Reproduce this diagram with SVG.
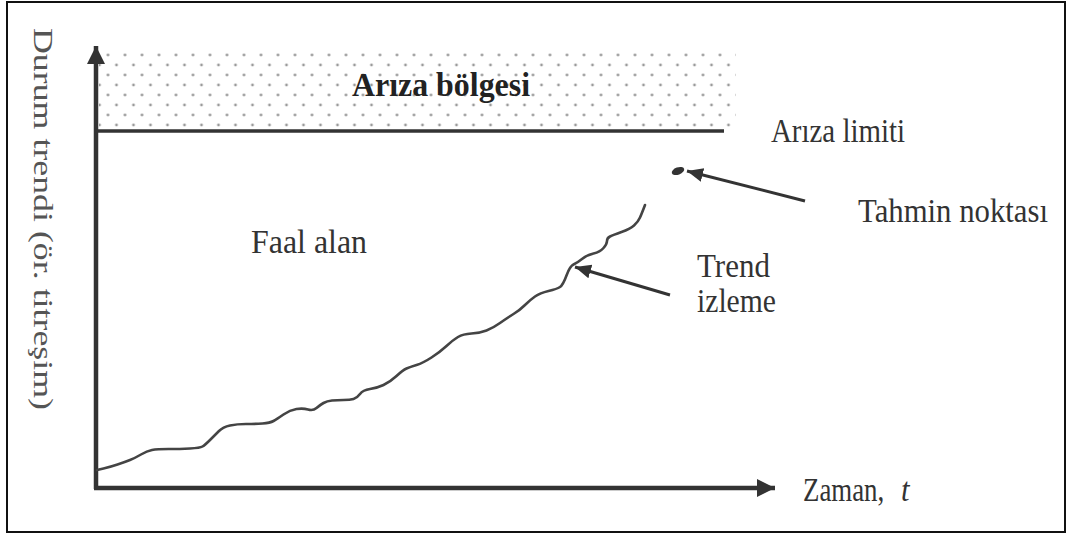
<svg xmlns="http://www.w3.org/2000/svg" width="1068" height="536" viewBox="0 0 1068 536">
  <style>
    text { font-family: "Liberation Serif", "DejaVu Serif", "Times New Roman", serif; }
    .lbl { font-size: 34px; fill: #333; }
    .bold { font-weight: bold; fill: #222; }
    .axis { stroke: #333; stroke-width: 4.5; fill: none; }
    .lead { stroke: #333; stroke-width: 3; fill: none; }
    .trend { stroke: #444; stroke-width: 2.6; fill: none; stroke-linejoin: round; stroke-linecap: round; }
  </style>
  <defs>
    <pattern id="dots" patternUnits="userSpaceOnUse" x="99.5" y="50" width="17" height="20">
      <circle cx="8.5" cy="5" r="1.4" fill="#9a9a9a"/>
      <circle cx="0" cy="15" r="1.4" fill="#9a9a9a"/>
      <circle cx="17" cy="15" r="1.4" fill="#9a9a9a"/>
    </pattern>
    <marker id="head" markerUnits="userSpaceOnUse" markerWidth="20" markerHeight="20" refX="16" refY="7" orient="auto">
      <path d="M0,0 L16,7 L0,14 Z" fill="#333"/>
    </marker>
    <marker id="axhead" markerUnits="userSpaceOnUse" markerWidth="22" markerHeight="22" refX="18" refY="9" orient="auto">
      <path d="M0,0 L18,9 L0,18 Z" fill="#333"/>
    </marker>
  </defs>

  <rect x="0" y="0" width="1068" height="536" fill="#fff"/>
  <!-- outer frame -->
  <rect x="7" y="2" width="1058" height="530" fill="none" stroke="#111" stroke-width="2"/>

  <!-- failure zone -->
  <g id="failure-zone">
    <rect x="99" y="48" width="637" height="82" fill="url(#dots)"/>
    <text class="lbl bold" x="352" y="96" textLength="178" lengthAdjust="spacingAndGlyphs">Arıza bölgesi</text>
  </g>

  <!-- failure limit line -->
  <g id="failure-limit">
    <line x1="96" y1="131" x2="724" y2="131" stroke="#333" stroke-width="3.5"/>
    <text class="lbl" x="771" y="142" textLength="134" lengthAdjust="spacingAndGlyphs">Arıza limiti</text>
  </g>

  <!-- axes -->
  <g id="axes">
    <line class="axis" x1="96" y1="489" x2="96" y2="46" marker-end="url(#axhead)"/>
    <line class="axis" x1="94" y1="488" x2="775" y2="488" marker-end="url(#axhead)"/>
    <text class="lbl" transform="translate(803,501) scale(0.79,1)">Zaman,</text>
    <text class="lbl" transform="translate(901,501) scale(0.9,1)" font-style="italic">t</text>
    <text class="lbl" transform="translate(34,28) scale(0.82,1) rotate(90)" textLength="382" lengthAdjust="spacingAndGlyphs" style="fill:#555">Durum trendi (ör. titreşim)</text>
  </g>

  <!-- operating region -->
  <g id="operating-area">
    <text class="lbl" x="251" y="253" textLength="116" lengthAdjust="spacingAndGlyphs">Faal alan</text>
  </g>

  <!-- monitored trend -->
  <g id="trend-curve">
    <path class="trend" d="M97,470 L103.5,468.5 Q110,467 117.5,464.5 Q125,462 130,460 Q135,458 141,454.5 Q147,451 152,450 Q157,449 168.5,449 Q180,449 190,448.5 Q200,448 202.5,446.5 Q205,445 210,440 Q215,435 219,431 Q223,427 230,425.5 Q237,424 246,424 Q255,424 262.5,423.5 Q270,423 273.5,421 Q277,419 283.5,414.5 Q290,410 296.5,409 Q303,408 308,409.5 Q313,411 316.5,408 Q320,405 323.5,403 Q327,401 332,400.5 Q337,400 343.5,400 Q350,400 353.5,399 Q357,398 360,394 Q363,390 370,389 Q377,388 383.5,385 Q390,382 396.5,376 Q403,370 406.5,368.5 Q410,367 416.5,365 Q423,363 431.5,357.5 Q440,352 446.5,346 Q453,340 458,337 Q463,334 471.5,333.5 Q480,333 486.5,330.5 Q493,328 500,323 Q507,318 513.5,314 Q520,310 525,305 Q530,300 535,296.5 Q540,293 548.5,291 Q557,289 560,287 Q563,285 566.5,275.5 Q570,266 573.5,264.5 Q577,263 582,259 Q587,255 593.5,253.5 Q600,252 603.5,248 Q607,244 607,241 Q607,238 610,236.5 Q613,235 621.5,232 Q630,229 634,225.5 Q638,222 640,217.5 Q642,213 645,205"/>
  </g>

  <!-- predicted point -->
  <g id="prediction-point">
    <ellipse cx="678" cy="171" rx="6.5" ry="3.6" transform="rotate(-20 678 171)" fill="#333"/>
  </g>

  <g id="trend-label">
    <text class="lbl" x="697" y="277" textLength="73" lengthAdjust="spacingAndGlyphs">Trend</text>
    <text class="lbl" x="697" y="312" textLength="79" lengthAdjust="spacingAndGlyphs">izleme</text>
  </g>

  <g id="prediction-label">
    <text class="lbl" x="858" y="222" textLength="190" lengthAdjust="spacingAndGlyphs">Tahmin noktası</text>
  </g>

  <!-- connectors -->
  <g id="connectors">
    <line class="lead" x1="805" y1="201" x2="687" y2="171" marker-end="url(#head)"/>
    <line class="lead" x1="670" y1="295" x2="575" y2="267" marker-end="url(#head)"/>
  </g>
</svg>
